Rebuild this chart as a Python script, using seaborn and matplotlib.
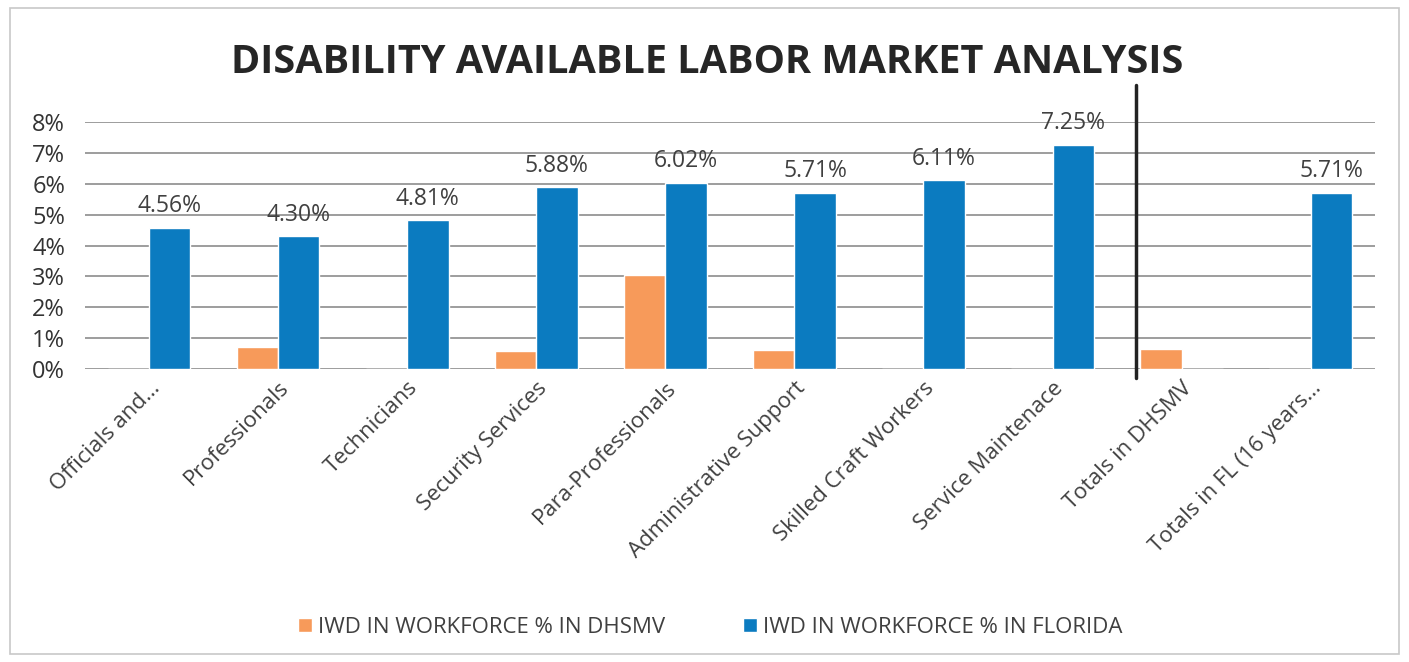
"""Disability available labor market analysis chart."""

import matplotlib

matplotlib.use("Agg")

import matplotlib.pyplot as plt
import pandas as pd
import seaborn as sns
from matplotlib.patches import Rectangle


categories = [
    "Officials and…",
    "Professionals",
    "Technicians",
    "Security Services",
    "Para-Professionals",
    "Administrative Support",
    "Skilled Craft Workers",
    "Service Maintenace",
    "Totals in DHSMV",
    "Totals in FL (16 years…",
]
dhsmv_pct = [0.0, 0.72, 0.0, 0.58, 3.04, 0.62, 0.0, 0.0, 0.65, 0.0]
florida_pct = [4.56, 4.30, 4.81, 5.88, 6.02, 5.71, 6.11, 7.25, 0.0, 5.71]
series_names = ["IWD IN WORKFORCE % IN DHSMV", "IWD IN WORKFORCE % IN FLORIDA"]
y_ticks = [0, 1, 2, 3, 4, 5, 6, 7, 8]

colors = ["#F79A5A", "#0B7BC0"]

sns.set_theme(style="white")
plt.rcParams["font.family"] = ["Open Sans", "DejaVu Sans"]

data = pd.DataFrame(
    {
        "Category": categories * 2,
        "Value": dhsmv_pct + florida_pct,
        "Series": [series_names[0]] * len(categories) + [series_names[1]] * len(categories),
    }
)

fig = plt.figure(figsize=(14.09, 6.62), dpi=100)
fig.patches.append(
    Rectangle((0.007, 0.012), 0.986, 0.976, transform=fig.transFigure,
              fill=False, edgecolor="#C8C8C8", linewidth=1.2)
)
ax = fig.add_axes([0.060, 0.4426, 0.916, 0.3731])

sns.barplot(
    data=data,
    x="Category",
    y="Value",
    hue="Series",
    palette=colors,
    width=0.64,
    saturation=1,
    ax=ax,
)

# divider before the totals
ax.plot([7.65, 7.65], [-0.3, 9.2], color="#222222", linewidth=2.5, clip_on=False)

ax.set_xlim(-0.5, len(categories) - 0.5)
ax.set_ylim(0, 8)
ax.set_yticks(y_ticks)
ax.set_yticklabels([f"{t}%" for t in y_ticks], fontsize=17, color="#333333")
ax.yaxis.grid(True, color="#8C8C8C", linewidth=1.2)
ax.set_axisbelow(True)
for spine in ax.spines.values():
    spine.set_visible(False)
ax.tick_params(axis="y", length=0, pad=14)
ax.tick_params(axis="x", length=0, pad=6)
ax.set_xlabel("")
ax.set_ylabel("")
plt.setp(ax.get_xticklabels(), rotation=45, ha="right", rotation_mode="anchor",
         fontsize=16, color="#404040")

# value labels for the Florida series
for bar, val in zip(ax.containers[1], florida_pct):
    if val > 0:
        ax.annotate(
            f"{val:.2f}%",
            (bar.get_x() + bar.get_width() / 2, bar.get_height()),
            xytext=(0, 7),
            textcoords="offset points",
            ha="center",
            va="bottom",
            fontsize=16.5,
            color="#404040",
        )

ax.legend(
    loc="center",
    bbox_to_anchor=(0.485, -1.045),
    ncol=2,
    frameon=False,
    fontsize=16,
    handlelength=0.6,
    handleheight=0.6,
    handletextpad=0.3,
    columnspacing=3.5,
    labelcolor="#404040",
)

fig.text(0.502, 0.906, "DISABILITY AVAILABLE LABOR MARKET ANALYSIS",
         ha="center", va="center", fontsize=28.5, fontweight="bold", color="#262626")

fig.savefig("out.png", dpi=100)
plt.close(fig)
